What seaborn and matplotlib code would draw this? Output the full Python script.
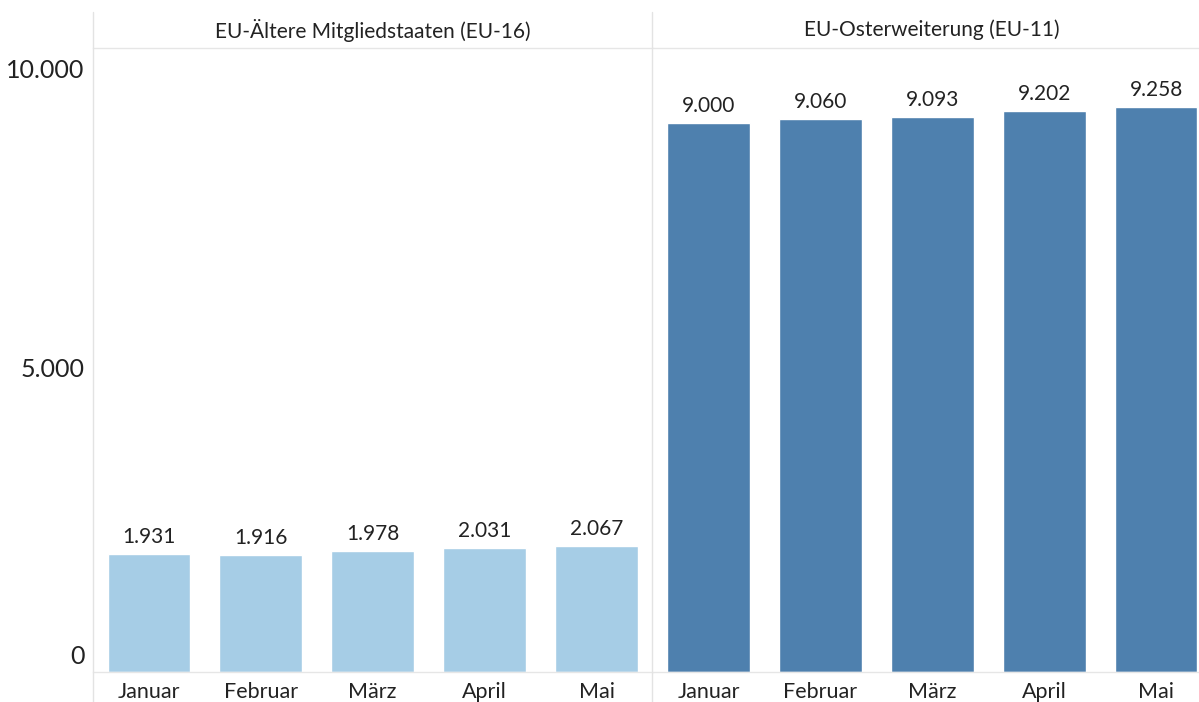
import matplotlib
matplotlib.use("Agg")
import matplotlib.pyplot as plt
import matplotlib.transforms as mtransforms
import seaborn as sns
import pandas as pd
from matplotlib.lines import Line2D

months = ["Januar", "Februar", "März", "April", "Mai"]
groups = ["EU-Ältere Mitgliedstaaten (EU-16)", "EU-Osterweiterung (EU-11)"]
eu16 = [1931, 1916, 1978, 2031, 2067]
eu11 = [9000, 9060, 9093, 9202, 9258]
colors = ["#a6cde6", "#4e80ae"]
yticks = [0, 5000, 10000]

sns.set_theme(style="white")
plt.rcParams["font.family"] = ["Lato", "DejaVu Sans"]

W, H = 1199, 702
fig = plt.figure(figsize=(W / 100, H / 100), dpi=100)

left, right = 93 / W, 1212 / W
top, bottom = 1 - 48 / H, 1 - 672 / H
width = (right - left) / 2
axes = [fig.add_axes([left + i * width, bottom, width, top - bottom]) for i in range(2)]

def fmt(v):
    return f"{v:,}".replace(",", ".")

for i, (ax, vals) in enumerate(zip(axes, [eu16, eu11])):
    df = pd.DataFrame({"Monat": months, "Wert": vals})
    sns.barplot(data=df, x="Monat", y="Wert", color=colors[i], saturation=1,
                width=0.74, ax=ax)
    ax.set_ylim(0, 10230)
    ax.set_xlim(-0.5, 4.5)
    ax.set_xlabel("")
    ax.set_ylabel("")
    for c in ax.containers:
        ax.bar_label(c, labels=[fmt(v) for v in vals], padding=5, fontsize=15,
                     color="#222222")
    ax.tick_params(axis="x", labelsize=15.5, colors="#222222", length=0, pad=7)
    for s in ["left", "right"]:
        ax.spines[s].set_visible(False)
    for s in ["top", "bottom"]:
        ax.spines[s].set_color("#e6e6e6")
        ax.spines[s].set_linewidth(1)
    if i == 0:
        ax.set_yticks(yticks)
        ax.set_yticklabels([fmt(v) for v in yticks])
        ax.tick_params(axis="y", labelsize=18, colors="#222222", length=0, pad=6)
        # Tableau-style label nudges: bottom label up, top label down
        for lab, dy in zip(ax.get_yticklabels(), [17, 0, -6]):
            lab.set_transform(lab.get_transform() +
                              mtransforms.ScaledTranslation(0, dy / 100, fig.dpi_scale_trans))
    else:
        ax.set_yticks([])
    cx = left + i * width + width / 2
    if i == 1:
        cx = (652 + 1199) / 2 / W + 0.005
    fig.text(cx, 1 - 30 / H, groups[i], ha="center", va="center", fontsize=15,
             color="#222222")

# vertical separators
for x in [93, 652]:
    fig.add_artist(Line2D([x / W, x / W], [1 - 12 / H, 0], color="#e3e3e3", lw=1))

fig.savefig("out.png", dpi=100)
